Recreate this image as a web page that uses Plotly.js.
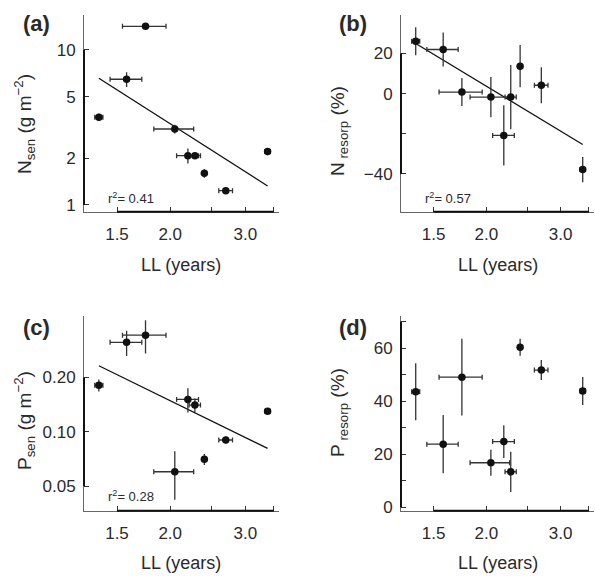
<!DOCTYPE html>
<html>
<head>
<meta charset="utf-8">
<script src="https://cdn.plot.ly/plotly-3.0.1.min.js"></script>
<style>html,body{margin:0;padding:0;background:#fff;}#chart{width:595px;height:576px;}</style>
</head>
<body>
<div id="chart"></div>
<script>
// ---- data ----
const LL      = [1.36, 1.58, 1.75, 2.05, 2.20, 2.285, 2.405, 2.70, 3.385];
const LL_err  = [0.03, 0.135, 0.205, 0.22, 0.13, 0.07, 0.02, 0.10, 0.05];

const Nsen      = [3.68, 6.47, 14.2, 3.09, 2.08, 2.08, 1.60, 1.237, 2.21];
const Nsen_err  = [0.2, 0.7, 0.3, 0.2, 0.23, 0.1, 0.1, 0.05, 0.12];
const Nsen_fit  = [6.57, 1.326];

const Nresorp     = [26.1, 22.0, 0.8, -1.7, -20.8, -1.7, 13.7, 4.2, -37.8];
const Nresorp_err = [7, 8.5, 7, 10, 15, 16, 10.5, 9, 6.3];
const Nresorp_fit = [25.0, -25.3];

const Psen     = [0.181, 0.313, 0.343, 0.060, 0.151, 0.1406, 0.0703, 0.090, 0.130];
const Psen_err = [0.014, 0.05, 0.072, 0.018, 0.023, 0.012, 0.005, 0.004, 0.004];
const Psen_fit = [0.232, 0.0809];

const Presorp     = [43.6, 23.8, 49.1, 16.8, 24.8, 13.4, 60.4, 51.8, 43.9];
const Presorp_err = [10.8, 11, 14.5, 4.9, 6.2, 7.6, 3.2, 3.8, 5.3];

const r2 = ['0.41', '0.57', '0.28'];
const panelLabels = ['(a)', '(b)', '(c)', '(d)'];

const xTickVals = [1.5, 2.0, 2.5, 3.0, 3.5];
const xTickText = ['1.5', '2.0', '', '3.0', ''];
const yTicksA = {vals: [1, 2, 5, 10], text: ['1', '2', '5', '10']};
const yTicksB = {vals: [20, 0, -20, -40], text: ['20', '0', '', '\u221240']};
const yTicksC = {vals: [0.05, 0.10, 0.20], text: ['0.05', '0.10', '0.20']};
const yTicksD = {vals: [0, 10, 20, 30, 40, 50, 60, 70], text: ['0', '', '20', '', '40', '', '60', '']};

// ---- layout helpers ----
const W = 595, H = 576;
const px = v => v / W;
const py = v => 1 - v / H;
const FONT = 'Liberation Sans, Arial, Helvetica, sans-serif';
const TXT = '#2a2a2a';

const xr = [Math.log10(1.255), Math.log10(3.6)];
const ranges = {
  a: [Math.log10(0.905), Math.log10(16.8)],
  b: [-58.8, 39.2],
  c: [Math.log10(0.0365), Math.log10(0.438)],
  d: [-1.3, 72.2]
};

const fitX = [Math.min(...LL), Math.max(...LL)];

function pts(xa, ya, y, yerr) {
  return {
    x: LL, y: y, xaxis: xa, yaxis: ya, type: 'scatter', mode: 'markers',
    marker: {color: '#111', size: 7.5},
    error_x: {type: 'data', array: LL_err, visible: true, color: '#333', thickness: 1.3, width: 2.5},
    error_y: {type: 'data', array: yerr, visible: true, color: '#333', thickness: 1.3, width: 0},
    hoverinfo: 'x+y', cliponaxis: false
  };
}
function fit(xa, ya, y) {
  return {x: fitX, y: y, xaxis: xa, yaxis: ya, type: 'scatter', mode: 'lines',
    line: {color: '#111', width: 1.3}, hoverinfo: 'skip'};
}

const data = [
  fit('x', 'y', Nsen_fit), pts('x', 'y', Nsen, Nsen_err),
  fit('x2', 'y2', Nresorp_fit), pts('x2', 'y2', Nresorp, Nresorp_err),
  fit('x3', 'y3', Psen_fit), pts('x3', 'y3', Psen, Psen_err),
  pts('x4', 'y4', Presorp, Presorp_err)
];

const colL = [84, 279], colR = [401, 594];
const rowT = [15, 211.7], rowB = [316, 510.7];

function xaxis(dom, anchor) {
  return {
    type: 'log', range: xr, domain: [px(dom[0]), px(dom[1])], anchor: anchor,
    tickvals: xTickVals, ticktext: xTickText, ticks: 'inside', ticklen: 5, tickwidth: 1,
    tickcolor: '#333', showline: true, linecolor: '#666', linewidth: 1,
    showgrid: false, zeroline: false, ticklabelstandoff: 7,
    tickfont: {family: FONT, size: 17, color: TXT}, fixedrange: true
  };
}
function yaxis(dom, anchor, type, range, tk) {
  return {
    type: type, range: range, domain: [py(dom[1]), py(dom[0])], anchor: anchor,
    tickvals: tk.vals, ticktext: tk.text, ticks: 'inside', ticklen: 5, tickwidth: 1,
    tickcolor: '#333', showline: true, linecolor: '#666', linewidth: 1,
    showgrid: false, zeroline: false, ticklabelstandoff: 4,
    tickfont: {family: FONT, size: 17, color: TXT}, fixedrange: true
  };
}

// thicker axis segment between first and last tick (as in the original)
function frac(v, r, isLog) { const t = isLog ? Math.log10(v) : v; return (t - r[0]) / (r[1] - r[0]); }
const shapes = [];
const panels = [
  {xa: 'x', ya: 'y', yr: ranges.a, log: true, tk: yTicksA},
  {xa: 'x2', ya: 'y2', yr: ranges.b, log: false, tk: yTicksB},
  {xa: 'x3', ya: 'y3', yr: ranges.c, log: true, tk: yTicksC},
  {xa: 'x4', ya: 'y4', yr: ranges.d, log: false, tk: yTicksD}
];
panels.forEach(p => {
  const x0 = frac(Math.min(...xTickVals), xr, true), x1 = frac(Math.max(...xTickVals), xr, true);
  shapes.push({type: 'line', xref: p.xa + ' domain', yref: p.ya + ' domain', x0: x0, x1: x1, y0: 0, y1: 0,
    line: {color: '#111', width: 2}});
  const y0 = frac(Math.min(...p.tk.vals), p.yr, p.log), y1 = frac(Math.max(...p.tk.vals), p.yr, p.log);
  shapes.push({type: 'line', xref: p.xa + ' domain', yref: p.ya + ' domain', x0: 0, x1: 0, y0: y0, y1: y1,
    line: {color: '#111', width: 2}});
});

function ann(text, x, y, size, opts) {
  return Object.assign({text: text, x: px(x), y: py(y), xref: 'paper', yref: 'paper', showarrow: false,
    xanchor: 'center', yanchor: 'middle', font: {family: FONT, size: size, color: TXT}}, opts || {});
}

const annotations = [
  ann('<b>' + panelLabels[0] + '</b>', 36, 24, 22),
  ann('<b>' + panelLabels[1] + '</b>', 353, 24, 22),
  ann('<b>' + panelLabels[2] + '</b>', 36, 327, 22),
  ann('<b>' + panelLabels[3] + '</b>', 353, 327, 22),
  ann('LL (years)', 181, 265, 18),
  ann('LL (years)', 498, 265, 18),
  ann('LL (years)', 181, 563, 18),
  ann('LL (years)', 498, 563, 18),
  ann('N<sub>sen</sub> (g m<sup>\u22122</sup>)', 24, 124, 19, {textangle: -90}),
  ann('N<sub> resorp</sub> (%)', 339, 131, 19, {textangle: -90}),
  ann('P<sub>sen</sub> (g m<sup>\u22122</sup>)', 24, 421, 19, {textangle: -90}),
  ann('P<sub> resorp</sub> (%)', 339, 413, 19, {textangle: -90}),
  ann('r<sup>2</sup>= ' + r2[0], 131, 198, 13),
  ann('r<sup>2</sup>= ' + r2[1], 448, 198, 13),
  ann('r<sup>2</sup>= ' + r2[2], 131, 496, 13)
];

const layout = {
  width: W, height: H, margin: {l: 0, r: 0, t: 0, b: 0},
  paper_bgcolor: '#fff', plot_bgcolor: 'rgba(0,0,0,0)', showlegend: false,
  font: {family: FONT, color: TXT},
  xaxis: xaxis(colL, 'y'), yaxis: yaxis(rowT, 'x', 'log', ranges.a, yTicksA),
  xaxis2: xaxis(colR, 'y2'), yaxis2: yaxis(rowT, 'x2', 'linear', ranges.b, yTicksB),
  xaxis3: xaxis(colL, 'y3'), yaxis3: yaxis(rowB, 'x3', 'log', ranges.c, yTicksC),
  xaxis4: xaxis(colR, 'y4'), yaxis4: yaxis(rowB, 'x4', 'linear', ranges.d, yTicksD),
  shapes: shapes, annotations: annotations
};

Plotly.newPlot('chart', data, layout, {staticPlot: true, displayModeBar: false});
</script>
</body>
</html>
